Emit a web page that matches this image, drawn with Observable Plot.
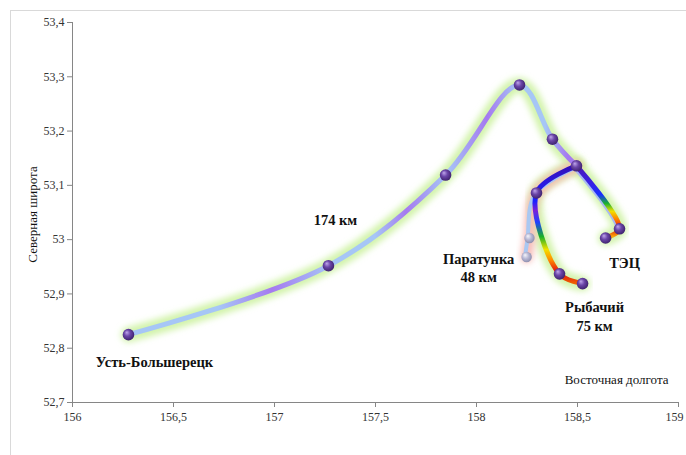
<!DOCTYPE html>
<html><head><meta charset="utf-8">
<script src="https://cdn.jsdelivr.net/npm/d3@7"></script>
<script src="https://cdn.jsdelivr.net/npm/@observablehq/plot@0.6"></script>
<style>
body{margin:0;background:#fff;}
#wrap{position:relative;width:686px;height:455px;overflow:hidden;}
#frame{position:absolute;left:10px;top:10px;width:700px;height:500px;border:1px solid #d9d9d9;box-sizing:border-box;}
#chart{position:absolute;left:0;top:0;}
</style></head><body>
<div id="wrap"><div id="frame"></div><div id="chart"></div></div>
<script>
// ---- data ----
const mainLon = [156.277, 157.267, 157.847, 158.213, 158.376, 158.495];
const mainLat = [52.825, 52.952, 53.119, 53.285, 53.185, 53.136];
const paratunkaLon = [158.495, 158.297, 158.262, 158.248];
const paratunkaLat = [53.136, 53.086, 53.003, 52.968];
const rybachiyLon = [158.495, 158.297, 158.411, 158.525];
const rybachiyLat = [53.136, 53.086, 52.937, 52.919];
const tecLon = [158.495, 158.708, 158.639];
const tecLat = [53.136, 53.020, 53.003];
const xTicks = [156, 156.5, 157, 157.5, 158, 158.5, 159];
const yTicks = [52.7, 52.8, 52.9, 53.0, 53.1, 53.2, 53.3, 53.4];
const xTitle = "Восточная долгота";
const yTitle = "Северная широта";
const labelMain = "Усть-Большерецк";
const labelDist = "174 км";
const labelParatunka = "Паратунка\n48 км";
const labelRybachiy = "Рыбачий\n75 км";
const labelTec = "ТЭЦ";

const toRows = (lon, lat) => lon.map((x, i) => ({lon: x, lat: lat[i]}));
const main = toRows(mainLon, mainLat);
const paratunka = toRows(paratunkaLon, paratunkaLat);
const rybachiy = toRows(rybachiyLon, rybachiyLat);
const tec = toRows(tecLon, tecLat);
const fmt = d => String(+d.toFixed(1)).replace(".", ",");
const lastX = xTicks[xTicks.length - 1];

const curve = "catmull-rom";
const GLOW_G = "#cdf2a2", GLOW_P = "#f6b8b4";
const lab = {fontFamily: "Liberation Serif", fontWeight: "bold", fontSize: 14.5, fill: "#111", lineHeight: 1.3};

const plot = Plot.plot({
  width: 686, height: 455,
  marginLeft: 72, marginRight: 8, marginTop: 22, marginBottom: 53,
  style: {fontFamily: "Liberation Serif", fontSize: "12px", color: "#333", background: "transparent", overflow: "visible"},
  x: {domain: [156, 159]},
  y: {domain: [52.7, 53.4]},
  marks: [
    Plot.axisX({ticks: xTicks, tickFormat: d => d === lastX ? "" : fmt(d), tickSize: 5, tickPadding: 5, label: null, stroke: "#868686"}),
    Plot.axisX({ticks: [lastX], tickFormat: fmt, tickSize: 0, tickPadding: 10, dx: -4, label: null}),
    Plot.axisY({ticks: yTicks, tickFormat: fmt, tickSize: 5, tickPadding: 3, label: null, stroke: "#868686"}),
    Plot.ruleX([156], {stroke: "#868686"}),
    Plot.ruleY([52.7], {stroke: "#868686"}),
    // glows
    Plot.line(main, {x: "lon", y: "lat", curve, stroke: GLOW_G, strokeWidth: 15, strokeOpacity: 0.9}),
    Plot.line(tec, {x: "lon", y: "lat", curve, stroke: GLOW_G, strokeWidth: 15, strokeOpacity: 0.9}),
    Plot.line(rybachiy, {x: "lon", y: "lat", curve, stroke: GLOW_G, strokeWidth: 15, strokeOpacity: 0.9}),
    Plot.line(paratunka, {x: "lon", y: "lat", curve, stroke: GLOW_P, strokeWidth: 12, strokeOpacity: 0.9}),
    // lines
    Plot.line(main, {x: "lon", y: "lat", curve, stroke: "url(#gMain)", strokeWidth: 5}),
    Plot.line(tec, {x: "lon", y: "lat", curve, stroke: "#a9b8f2", strokeWidth: 4, dx: -2, dy: 1.5}),
    Plot.line(paratunka, {x: "lon", y: "lat", curve, stroke: "#a9c8f2", strokeWidth: 4, dx: -2, dy: 2}),
    Plot.line(rybachiy, {x: "lon", y: "lat", curve, stroke: "url(#gRyb)", strokeWidth: 5}),
    Plot.line(tec, {x: "lon", y: "lat", curve, stroke: "url(#gTec)", strokeWidth: 5}),
    // dots
    Plot.dot(main, {x: "lon", y: "lat", r: 5.8, fill: "url(#gDot)"}),
    Plot.dot(rybachiy.slice(1), {x: "lon", y: "lat", r: 5.8, fill: "url(#gDot)"}),
    Plot.dot(tec.slice(1), {x: "lon", y: "lat", r: 5.8, fill: "url(#gDot)"}),
    Plot.dot(paratunka.slice(2), {x: "lon", y: "lat", r: 5.2, fill: "url(#gDotL)"}),
    // labels
    Plot.text(main.slice(0, 1), {x: "lon", y: "lat", text: () => labelMain, dx: 26, dy: 26, ...lab}),
    Plot.text(main.slice(1, 2), {x: "lon", y: "lat", text: () => labelDist, dx: 7, dy: -47, ...lab}),
    Plot.text(paratunka.slice(3), {x: "lon", y: "lat", text: () => labelParatunka, dx: -48, dy: 10, ...lab}),
    Plot.text(rybachiy.slice(3), {x: "lon", y: "lat", text: () => labelRybachiy, dx: 12, dy: 32, ...lab}),
    Plot.text(tec.slice(2), {x: "lon", y: "lat", text: () => labelTec, dx: 19, dy: 24, ...lab}),
    Plot.text([xTitle], {frameAnchor: "bottom-right", text: d => d, textAnchor: "end", lineAnchor: "middle", dx: -10, dy: -23, fontSize: 13, fill: "#111"}),
    Plot.text([yTitle], {frameAnchor: "left", text: d => d, rotate: -90, textAnchor: "middle", lineAnchor: "middle", dx: -40, dy: 2, fontSize: 13, fill: "#111"})
  ]
});

// gradients & glow filter
const svg = d3.select(plot);
const defs = svg.insert("defs", ":first-child");
function lin(id, stops, vertical) {
  const g = defs.append("linearGradient").attr("id", id)
    .attr("x1", 0).attr("y1", 0).attr("x2", vertical ? 0 : 1).attr("y2", vertical ? 1 : 0);
  stops.forEach(([o, c]) => g.append("stop").attr("offset", o).attr("stop-color", c));
}
const B = "#a6c6f6", P = "#a57af0";
lin("gMain", [[0, B], [0.2, B], [0.32, P], [0.45, B], [0.55, B], [0.62, P], [0.71, B], [0.8, P], [0.87, B], [0.93, B], [0.98, P], [1, P]]);
lin("gRyb", [[0, "#3510b8"], [0.15, "#2a18e0"], [0.3, "#1a20ff"], [0.38, "#7a20d8"], [0.48, "#2040ff"], [0.6, "#18b028"], [0.71, "#f2e000"], [0.8, "#ff8a00"], [0.9, "#e01010"], [1, "#f06000"]], true);
lin("gTec", [[0, "#4a18b8"], [0.22, "#3a20e0"], [0.4, "#1a30ff"], [0.52, "#18b030"], [0.63, "#f2e000"], [0.74, "#ff8000"], [0.86, "#e01010"], [1, "#ffc000"]], true);
function rad(id, stops) {
  const g = defs.append("radialGradient").attr("id", id).attr("cx", "45%").attr("cy", "45%").attr("r", "60%").attr("fx", "35%").attr("fy", "30%");
  stops.forEach(([o, c]) => g.append("stop").attr("offset", o).attr("stop-color", c));
}
rad("gDot", [[0, "#c0a6ec"], [0.45, "#6b46a8"], [1, "#3a1e68"]]);
rad("gDotL", [[0, "#f6f6fc"], [0.5, "#b8b8d4"], [1, "#8a8aaa"]]);
const f = defs.append("filter").attr("id", "glow").attr("x", "-20%").attr("y", "-20%").attr("width", "140%").attr("height", "140%");
f.append("feGaussianBlur").attr("stdDeviation", 3);
svg.selectAll(`g[stroke="${GLOW_G}"], g[stroke="${GLOW_P}"]`).attr("filter", "url(#glow)");

document.getElementById("chart").appendChild(plot);
</script>
</body></html>
